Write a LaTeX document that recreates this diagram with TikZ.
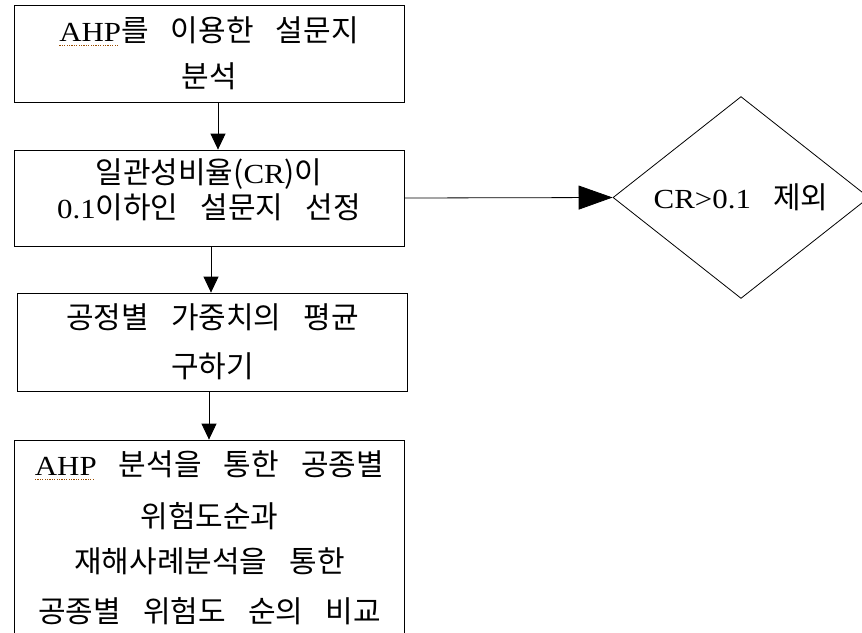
\documentclass[tikz,border=0pt]{standalone}
\usepackage{fontspec}
\setmainfont[WordSpace=3.3]{Noto Sans CJK KR}
\newfontfamily\latn[Scale=0.92,FakeStretch=1.12]{Liberation Serif}
\usetikzlibrary{shapes.geometric,arrows.meta}

% dotted spell-check mark under AHP
\newsavebox\spellbox
\newcommand\spellmark[1]{\sbox\spellbox{#1}%
  \rlap{\textcolor{orange!60!black}{\raisebox{-4pt}{\hbox to \wd\spellbox{\leaders\hbox{\rule{1.2pt}{1.2pt}\hspace{1.2pt}}\hfill}}}}%
  \usebox\spellbox}

\begin{document}
\begin{tikzpicture}[x=1pt,y=-1pt,
    stepbox/.style={draw, line width=0.8pt, minimum width=390pt, align=center, inner sep=0pt,
      font=\fontsize{30}{47}\selectfont},
    cutbox/.style={draw, diamond, line width=0.8pt, minimum width=256pt, minimum height=185pt,
      inner sep=0pt, font=\fontsize{30}{34}\selectfont},
    flow/.style={-{Triangle[length=16pt,width=15pt]}, line width=0.8pt},
    jump/.style={-{Triangle[length=34pt,width=24pt]}, line width=0.8pt}]
    \clip (0,0) rectangle (862,632);

    % Caselle
    \node[stepbox, minimum height=97pt] (survey) at (209,53.5)
      {{\latn\spellmark{AHP}}를 이용한 설문지\\[-1pt]분석};
    \node[stepbox, minimum height=96pt] (select) at (209,198)
      {\raisebox{8pt}[\height][\depth]{\parbox{380pt}{\centering\baselineskip=35pt
        일관성비율({\latn CR})이\\{\latn 0.1}이하인 설문지 선정}}};
    \node[stepbox, minimum height=98pt] (weight) at (212.5,342)
      {공정별 가중치의 평균\\[2pt]구하기};
    \node[stepbox, minimum height=196pt] (compare) at (209.5,538)
      {{\latn\spellmark{AHP}} 분석을 통한 공종별\\[5pt]위험도순과\\[-2pt]재해사례분석을 통한\\[3pt]공종별 위험도 순의 비교};

    %제외
    \node[cutbox] (drop) at (741,197.5) {{\latn CR>0.1} 제외};

    % Frecce
    \draw[flow] ([xshift=9pt]survey.south) -- ([xshift=9pt]select.north);
    \draw[flow] ([xshift=2pt]select.south) -- ([xshift=-1.5pt]weight.north);
    \draw[flow] ([xshift=-3.5pt]weight.south) -- ([xshift=-0.5pt]compare.north);
    \draw[jump] (select.east) -- (drop.west);
  \end{tikzpicture}
\end{document}
